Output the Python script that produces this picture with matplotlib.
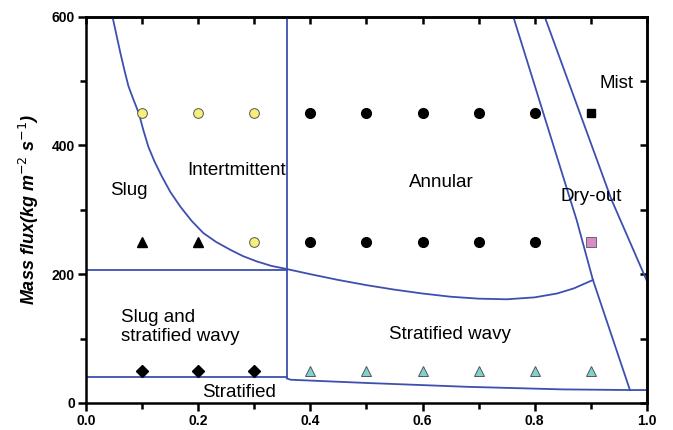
import numpy as np
import matplotlib
matplotlib.use('Agg')
import matplotlib.pyplot as plt
from matplotlib.ticker import MultipleLocator

plt.rcParams['font.family'] = ['Liberation Sans', 'DejaVu Sans']

# Messpunkte (Dampfgehalt x, Massenstrom G)
yellow_x = [0.1, 0.2, 0.3, 0.3]
yellow_y = [450, 450, 450, 250]
circle_x = [0.4, 0.5, 0.6, 0.7, 0.8, 0.4, 0.5, 0.6, 0.7, 0.8]
circle_y = [450, 450, 450, 450, 450, 250, 250, 250, 250, 250]
sq_black_x, sq_black_y = [0.9], [450]
sq_pink_x, sq_pink_y = [0.9], [250]
tri_black_x, tri_black_y = [0.1, 0.2], [250, 250]
diam_x, diam_y = [0.1, 0.2, 0.3], [50, 50, 50]
tri_cyan_x = [0.4, 0.5, 0.6, 0.7, 0.8, 0.9]
tri_cyan_y = [50, 50, 50, 50, 50, 50]

# Grenzlinien der Stroemungskarte
slug_x = [0.047, 0.054, 0.061, 0.068, 0.0755, 0.085, 0.094, 0.102, 0.111, 0.122,
          0.135, 0.150, 0.168, 0.188, 0.209, 0.232, 0.257, 0.280, 0.304, 0.330, 0.358]
slug_y = [600, 572, 544, 518, 492, 470, 450, 424, 398, 375,
          352, 328, 305, 283, 264, 250, 238, 228, 220, 213, 208]
annular_x = [0.358, 0.40, 0.45, 0.50, 0.55, 0.60, 0.65, 0.70, 0.75, 0.80, 0.84, 0.87, 0.904]
annular_y = [208, 200, 191, 183, 176, 170, 165, 162, 161, 164, 170, 178, 191]
vert_x, vert_y = [0.358, 0.358], [600, 38]
hor_x, hor_y = [0.0, 0.358], [207, 207]
strat_left_x, strat_left_y = [0.0, 0.358], [40, 40]
strat_right_x = [0.358, 0.365, 0.5, 0.68, 0.85, 0.97, 1.0]
strat_right_y = [38, 36, 31, 25, 21, 20, 20]
dry_x = [0.762, 0.875, 0.904, 0.970]
dry_y = [600, 284, 191, 20]
mist_x = [0.818, 0.937, 1.0]
mist_y = [600, 316, 190]

fig = plt.figure(figsize=(6.73, 4.30), dpi=100)
ax = fig.add_axes([0.128, 0.063, 0.833, 0.898])

blue = '#3d4fb0'
for lx, ly in [(slug_x, slug_y), (annular_x, annular_y), (vert_x, vert_y),
               (hor_x, hor_y), (strat_left_x, strat_left_y),
               (strat_right_x, strat_right_y), (dry_x, dry_y), (mist_x, mist_y)]:
    ax.plot(lx, ly, color=blue, lw=1.3, zorder=2)

ax.plot(yellow_x, yellow_y, 'o', ms=7, mfc='#f6f07a', mec='#555555', mew=0.7, zorder=3)
ax.plot(circle_x, circle_y, 'o', ms=7, color='black', zorder=3)
ax.plot(sq_black_x, sq_black_y, 's', ms=6, color='black', zorder=3)
ax.plot(sq_pink_x, sq_pink_y, 's', ms=6.5, mfc='#d98bc8', mec='#666666', mew=0.7, zorder=3)
ax.plot(tri_black_x, tri_black_y, '^', ms=7, color='black', zorder=3)
ax.plot(diam_x, diam_y, 'D', ms=6, color='black', zorder=3)
ax.plot(tri_cyan_x, tri_cyan_y, '^', ms=7.5, mfc='#80d2cf', mec='#555555', mew=0.7, zorder=3)

fs = 13.5
ax.text(0.077, 330, 'Slug', fontsize=fs, ha='center', va='center')
ax.text(0.269, 361, 'Intertmittent', fontsize=fs, ha='center', va='center')
ax.text(0.634, 342, 'Annular', fontsize=fs, ha='center', va='center')
ax.text(0.901, 321, 'Dry-out', fontsize=fs, ha='center', va='center')
ax.text(0.946, 497, 'Mist', fontsize=fs, ha='center', va='center')
ax.text(0.062, 118, 'Slug and\nstratified wavy', fontsize=fs, ha='left', va='center',
        linespacing=1.1)
ax.text(0.649, 106, 'Stratified wavy', fontsize=fs, ha='center', va='center')
ax.text(0.272, 16, 'Stratified', fontsize=fs, ha='center', va='center')

ax.set_xlim(0, 1.0)
ax.set_ylim(0, 600)
ax.xaxis.set_major_locator(MultipleLocator(0.2))
ax.xaxis.set_minor_locator(MultipleLocator(0.1))
ax.yaxis.set_major_locator(MultipleLocator(200))
ax.yaxis.set_minor_locator(MultipleLocator(100))
ax.xaxis.set_major_formatter(matplotlib.ticker.FormatStrFormatter('%.1f'))
ax.tick_params(which='major', direction='out', length=6, width=1.8, labelsize=10, pad=2)
ax.tick_params(which='minor', direction='out', length=4, width=1.8)
for lab in ax.get_xticklabels() + ax.get_yticklabels():
    lab.set_fontweight('bold')

# obere und rechte Achse mit Ticks nach innen
top = ax.secondary_xaxis('top')
top.xaxis.set_major_locator(MultipleLocator(0.1))
top.tick_params(direction='in', length=5, width=1.8, labeltop=False)
right = ax.secondary_yaxis('right')
right.yaxis.set_major_locator(MultipleLocator(100))
right.tick_params(direction='in', length=5, width=1.8, labelright=False)

for s in ax.spines.values():
    s.set_linewidth(1.8)
top.spines['top'].set_linewidth(1.8)
right.spines['right'].set_linewidth(1.8)

ax.set_ylabel(r'Mass flux(kg m$^{-2}$ s$^{-1}$)', fontsize=13, fontweight='bold',
              fontstyle='italic', labelpad=8)

fig.savefig('out.png', dpi=100)
